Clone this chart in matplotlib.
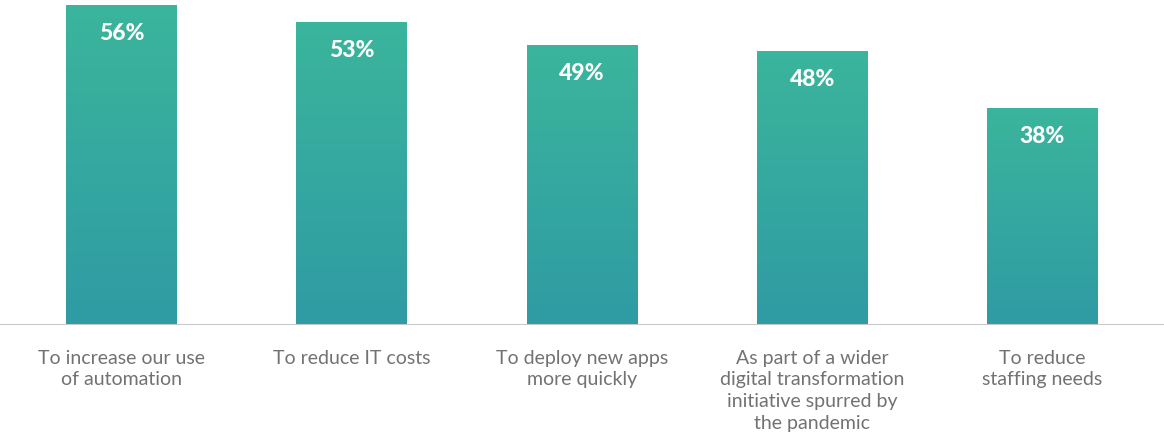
import numpy as np
import matplotlib
matplotlib.use('Agg')
import matplotlib.pyplot as plt
from matplotlib.colors import LinearSegmentedColormap

categories = [
    "To increase our use\nof automation",
    "To reduce IT costs",
    "To deploy new apps\nmore quickly",
    "As part of a wider\ndigital transformation\ninitiative spurred by\nthe pandemic",
    "To reduce\nstaffing needs",
]
values = [56, 53, 49, 48, 38]
value_labels = ["56%", "53%", "49%", "48%", "38%"]

TOP_COLOR = "#3bb59c"
BOTTOM_COLOR = "#2f9ba4"
TEXT_GRAY = "#727272"

fig = plt.figure(figsize=(11.64, 4.34), dpi=100)
ax = fig.add_axes([0, (434 - 325) / 434, 1, 325 / 434])

x = np.arange(len(values))
width = 0.482
ax.set_xlim(-0.528, 4.528)
ax.set_ylim(0, 56.875)

cmap = LinearSegmentedColormap.from_list("bar", [BOTTOM_COLOR, TOP_COLOR])
grad = np.linspace(0, 1, 256).reshape(-1, 1)

bars = ax.bar(x, values, width=width, color="none", edgecolor="none")
for bar, v, lab in zip(bars, values, value_labels):
    x0 = bar.get_x()
    im = ax.imshow(grad, cmap=cmap, origin="lower", aspect="auto",
                   extent=[x0, x0 + width, 0, v], zorder=1)
    im.set_clip_path(bar)
    ax.text(bar.get_x() + width / 2, v - 5.0, lab, ha="center", va="center",
            color="white", fontsize=16.5, fontweight="black", family="Lato", zorder=3)

for xi, cat in zip(x, categories):
    ax.text(xi, -4.3, cat, ha="center", va="top", color=TEXT_GRAY,
            fontsize=14, family="Lato", linespacing=1.34,
            transform=ax.transData, clip_on=False)

ax.axhline(0, color="#c8c8c8", lw=1.5, zorder=2)
for s in ax.spines.values():
    s.set_visible(False)
ax.set_xticks([])
ax.set_yticks([])

fig.savefig("out.png", dpi=100)
